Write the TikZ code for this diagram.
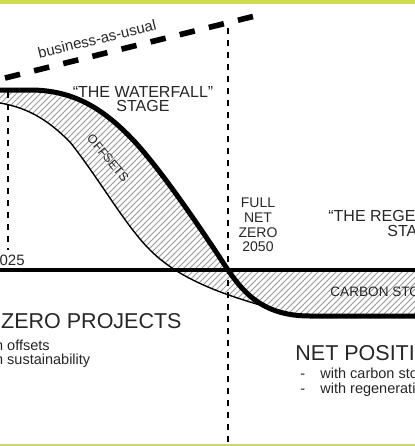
\documentclass[tikz,border=0pt]{standalone}
\usepackage{fontspec}
\setmainfont{Liberation Sans}
\usetikzlibrary{patterns}

\definecolor{bandgreen}{RGB}{207,217,78}
\definecolor{bandpale}{RGB}{204,212,122}

\begin{document}
\begin{tikzpicture}[x=0.5pt,y=-0.5pt,
  txt/.style={text=black!85,inner sep=0pt},
  heavy/.style={line width=2.5pt,line join=round},
  dotline/.style={line width=1.35pt,dash pattern=on 3pt off 3pt},
  hatch/.style={pattern=north east lines,pattern color=gray!80}]
\useasboundingbox (0,0) rectangle (415,446);
\clip (0,0) rectangle (415,446);
\fill[bandgreen] (0,0) rectangle (415,3.5);
\fill[bandpale] (0,444) rectangle (415,446);
% offsets + carbon storage
\fill[hatch] (-5,90) -- (30,90) .. controls (75,90) and (105,110) .. (135,142)
  .. controls (165,175) and (205,235) .. (228,270) -- (420,270) -- (420,316) -- (300,316)
  .. controls (240,300) and (185,285) .. (150,250) .. controls (125,225) and (100,180) .. (70,142)
  .. controls (50,122) and (30,108) .. (0,103) -- (-5,102) -- cycle;
\draw[dotline] (228,28) -- (228,450);
\draw[dotline] (8,92) -- (8,250);
\draw[line width=2.2pt] (-5,270) -- (420,270);
\draw[line width=0.7pt] (-5,102) -- (0,103) .. controls (30,108) and (50,122) .. (70,142)
  .. controls (100,180) and (125,225) .. (150,250) .. controls (185,285) and (240,300) .. (300,316);
\draw[heavy] (-5,90) -- (30,90) .. controls (75,90) and (105,110) .. (135,142)
  .. controls (165,175) and (205,235) .. (228,270) .. controls (245,295) and (265,316) .. (310,316)
  -- (420,316);
\draw[line width=2.8pt,dash pattern=on 7.75pt off 7.25pt] (5,78) -- (255,16);
% labels
\node[txt,rotate=13.5,font=\fontsize{7.5}{9}\selectfont] (bau) at (97,39) {business-as-usual};
\node[txt,align=center,font=\fontsize{8}{7}\selectfont] (waterfall) at (143,99) {“THE WATERFALL”\\STAGE};
\node[txt,rotate=-50,font=\fontsize{6.2}{7}\selectfont] (offsets) at (108,158) {OFFSETS};
\node[txt,align=center,font=\fontsize{7}{7.35}\selectfont] (fullnz) at (258,225) {FULL\\NET\\ZERO\\2050};
\node[txt,align=center,font=\fontsize{8}{7.5}\selectfont] (regen) at (414,223) {“THE REGENERATIVE”\\STAGE};
\node[txt,anchor=east,font=\fontsize{7.5}{9}\selectfont] (year) at (25,260) {2025};
\node[txt,anchor=west,font=\fontsize{6.8}{8}\selectfont] (storage) at (330,292) {CARBON STORAGE};
\node[txt,anchor=base east,font=\fontsize{10.75}{12}\selectfont] (nzp) at (182,328) {NET ZERO PROJECTS};
\node[txt,anchor=base west,font=\fontsize{7.25}{8}\selectfont] (nzp1) at (-23,350) {with offsets};
\node[txt,anchor=base west,font=\fontsize{7.25}{8}\selectfont] (nzp2) at (-23,364) {with sustainability};
\node[txt,anchor=base west,font=\fontsize{10.75}{12}\selectfont] (npp) at (295,360) {NET POSITIVE};
\node[txt,anchor=base west,font=\fontsize{7.25}{8}\selectfont] (dash1) at (300,378) {-};
\node[txt,anchor=base west,font=\fontsize{7.25}{8}\selectfont] (npp1) at (320,378) {with carbon storage};
\node[txt,anchor=base west,font=\fontsize{7.25}{8}\selectfont] (dash2) at (300,393) {-};
\node[txt,anchor=base west,font=\fontsize{7.25}{8}\selectfont] (npp2) at (320,393) {with regeneration};
\end{tikzpicture}
\end{document}
